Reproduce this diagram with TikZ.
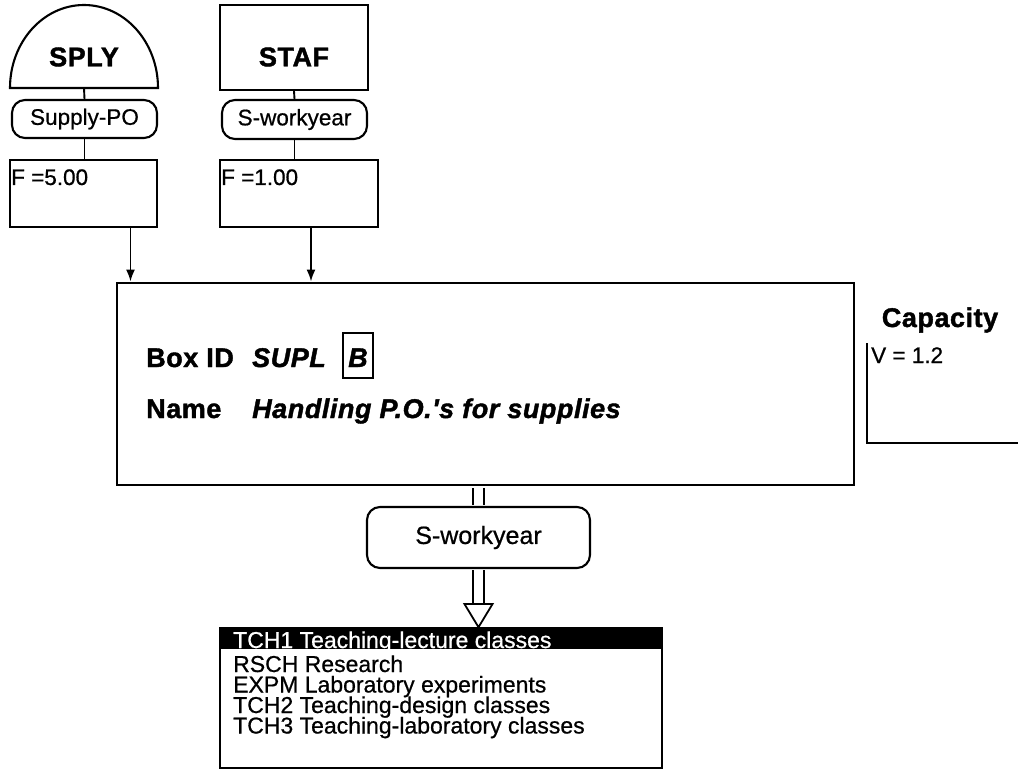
\documentclass[tikz,border=0pt]{standalone}
\usepackage{fontspec}
\setmainfont{Liberation Sans}[Ligatures=TeXOff]
\usetikzlibrary{arrows.meta}

\begin{document}
\begin{tikzpicture}[x=1pt, y=-1pt, >={Latex[length=12pt,width=9pt]},
  box/.style={draw, line width=2.1pt, inner sep=0pt},
  pill/.style={box, rounded corners=13pt},
  big/.style={font=\fontsize{27}{28}\selectfont\bfseries\addfontfeature{LetterSpace=2,FakeBold=1.5}},
  bigit/.style={font=\fontsize{27}{28}\selectfont\bfseries\itshape\addfontfeature{LetterSpace=2,FakeBold=1.5}},
  small/.style={font=\fontsize{22.5}{24}\selectfont\addfontfeature{FakeBold=0.7}},
  listtext/.style={font=\fontsize{23}{20.5}\selectfont\addfontfeature{FakeBold=0.7}, anchor=base west, inner sep=0pt},
  link/.style={line width=1.9pt},
  pipe/.style={line width=1.8pt}]

\useasboundingbox (0,0) rectangle (1018,770);

% sources
\coordinate (splybase) at (84,88);
\draw[box] (10,88) -- (158,88) arc[start angle=0, end angle=180, x radius=74pt, y radius=83pt] -- cycle;
\node[big] (sply) at (84,57) {SPLY};
\node[box, minimum width=148pt, minimum height=85pt] (staf) at (294,47.5) {};
\node[big] (staflabel) at (294,57) {STAF};

\node[pill, small, minimum width=145pt, minimum height=38pt] (supplypo) at (84.5,119) {Supply-PO};
\node[pill, small, minimum width=145pt, minimum height=39pt] (swork) at (294.5,119.5) {S-workyear};

\node[box, minimum width=147pt, minimum height=67pt] (fsply) at (83.5,193.5) {};
\node[small, anchor=base west, inner sep=0pt] (fsplytext) at (11,185) {F =5.00};
\node[box, minimum width=158pt, minimum height=67pt] (fstaf) at (299,193.5) {};
\node[small, anchor=base west, inner sep=0pt] (fstaftext) at (221,185) {F =1.00};

% activity box
\node[box, line width=2.8pt, minimum width=737pt, minimum height=202pt] (main) at (485.5,384) {};
\node[big, anchor=base west, inner sep=0pt] (boxid) at (146,367) {Box ID};
\node[bigit, anchor=base west, inner sep=0pt] (boxname) at (252,367) {SUPL};
\node[box, bigit, line width=1.8pt, minimum width=30pt, minimum height=45pt, text height=23pt, text depth=0pt] (boxtype) at (358,355.5) {B};
\node[big, anchor=base west, inner sep=0pt] (namelabel) at (146,418) {Name};
\node[bigit, anchor=base west, inner sep=0pt] (namevalue) at (252,418) {Handling P.O.'s for supplies};

% capacity
\node[big, anchor=base] (capacity) at (940,327) {Capacity};
\node[small, anchor=base west, inner sep=0pt] (vvalue) at (871,363) {V = 1.2};
\draw[link] (867,343) |- (1018,443);

% connectors
\draw[link] (splybase) -- (supplypo.north);
\draw[link] (supplypo.south) -- (supplypo.south |- fsply.north);
\draw[link] (staf.south) -- (swork.north);
\draw[link] (swork.south) -- (swork.south |- fstaf.north);
\draw[link, ->] ([xshift=47pt]fsply.south) -- ([xshift=47pt]fsply.south |- main.north);
\draw[link, ->] ([xshift=12pt]fstaf.south) -- ([xshift=12pt]fstaf.south |- main.north);

% output
\node[pill, font=\fontsize{25}{26}\selectfont\addfontfeature{FakeBold=0.7}, minimum width=223pt, minimum height=61pt] (sworkout) at (478.5,537.5) {S-workyear};
\draw[pipe, double, double distance=9pt, shorten <=1.4pt, shorten >=1pt] (main.south -| sworkout.north) -- (sworkout.north);
\node[box, line width=1.6pt, minimum width=442pt, minimum height=140pt] (list) at (441,698) {};
\draw[pipe, double, double distance=9pt, shorten <=1pt] (sworkout.south) -- ++(0,35);
\draw[pipe, fill=white] ([xshift=-14pt,yshift=-35pt]sworkout.south) -- ([xshift=14pt,yshift=-35pt]sworkout.south) -- (sworkout.south |- list.north) -- cycle;

% list of targets
\fill (list.north west) rectangle ([yshift=-22pt]list.north east);
\begin{scope}
  \clip (list.north west) rectangle ([yshift=-22pt]list.north east);
  \node[listtext, text=white] (item0) at (233,648) {TCH1 Teaching-lecture classes};
\end{scope}
\foreach \code/\desc [count=\i] in {RSCH/Research, EXPM/Laboratory experiments, TCH2/Teaching-design classes, TCH3/Teaching-laboratory classes}
  \node[listtext] (item\i) at (233,651.5+20.5*\i) {\code\ \desc};

\end{tikzpicture}
\end{document}
